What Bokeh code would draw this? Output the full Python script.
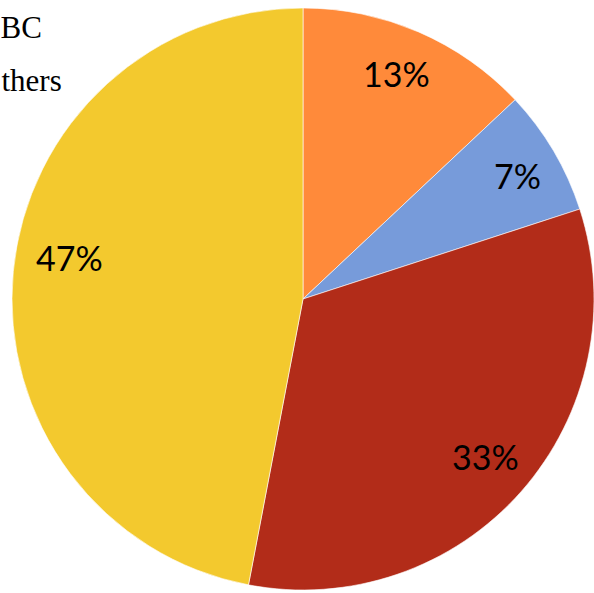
import math
from bokeh.plotting import figure
from bokeh.models import Range1d, ColumnDataSource
from bokeh.core.properties import value
from bokeh.embed import file_html
from bokeh.resources import INLINE

# ---- data ----
slice_names = ["Slice A", "Slice B", "Slice C", "Slice D"]
slice_shares = [13, 7, 33, 47]
slice_labels = ["13%", "7%", "33%", "47%"]
slice_colors = ["#FF8A3A", "#779BDA", "#B22C19", "#F3C92E"]
legend_texts = ["BC", "thers"]   # visible parts of the cropped legend

# ---- layout / style ----
W, H = 594, 593
cx, cy = 302.5, H - 298.5
R = 291.0
label_r_frac = [0.832, 0.847, 0.833, 0.814]
label_nudge_deg = [-0.7, 1.1, -0.2, 4.2]

total = float(sum(slice_shares))
starts, ends, lx, ly = [], [], [], []
cum = 0.0
for i, v in enumerate(slice_shares):
    a0 = math.pi / 2 - 2 * math.pi * cum / total
    cum += v
    a1 = math.pi / 2 - 2 * math.pi * cum / total
    starts.append(a0)
    ends.append(a1)
    mid = (a0 + a1) / 2 - math.radians(label_nudge_deg[i])
    rr = R * label_r_frac[i]
    lx.append(cx + rr * math.cos(mid))
    ly.append(cy + rr * math.sin(mid) + 2)

src = ColumnDataSource(dict(name=slice_names, start=starts, end=ends,
                            color=slice_colors, label=slice_labels, lx=lx, ly=ly))

p = figure(width=W, height=H, output_backend="svg", toolbar_location=None,
           x_range=Range1d(0, W), y_range=Range1d(0, H), min_border=0)
p.axis.visible = False
p.grid.visible = False
p.outline_line_color = None
p.background_fill_color = "white"
p.border_fill_color = "white"

p.wedge(x=cx, y=cy, radius=R, start_angle="start", end_angle="end",
        direction="clock", fill_color="color", line_color="white",
        line_width=0.6, source=src)

p.text(x="lx", y="ly", text="label", source=src, text_align="center",
       text_baseline="middle", text_font=value("Lato"),
       text_font_size="34px", text_color="black")

legend_x = [0, 1]
legend_y = [H - 27, H - 80]
p.text(x=legend_x, y=legend_y, text=legend_texts, text_align="left",
       text_baseline="alphabetic", text_font=value("Liberation Serif"),
       text_font_size="31px", text_color="black")

open("out.html", "w").write(file_html(p, INLINE))
